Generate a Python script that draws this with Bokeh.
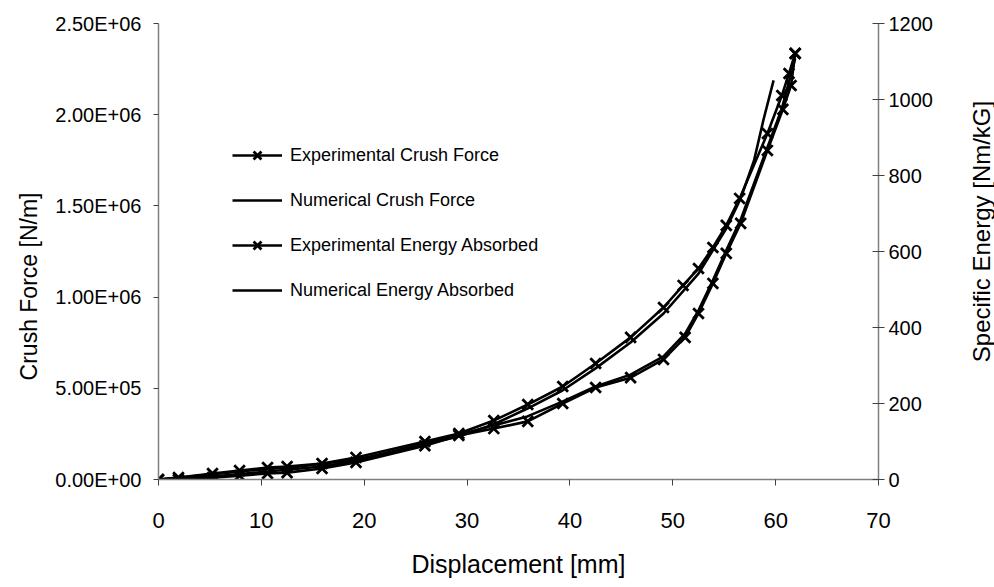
from bokeh.plotting import figure
from bokeh.models import Range1d, LinearAxis, FixedTicker, Legend, LegendItem
from bokeh.layouts import row
from bokeh.core.properties import value
from bokeh.embed import file_html
from bokeh.resources import INLINE
import math

# ---- data ----
exp_force_x = [0, 1.94, 5.25, 7.88, 10.6, 12.5, 15.9, 19.2, 25.9, 29.2, 32.6, 35.9, 39.3,
               42.5, 45.9, 49.1, 51.0, 52.5, 53.9, 55.2, 56.5, 59.2, 60.6, 61.3, 61.9]
exp_force_y = [0, 1.1e4, 3.3e4, 4.9e4, 6.6e4, 7.1e4, 8.8e4, 1.21e5, 2.08e5, 2.52e5, 3.23e5,
               4.11e5, 5.10e5, 6.36e5, 7.79e5, 9.43e5, 1.064e6, 1.157e6, 1.272e6, 1.393e6,
               1.541e6, 1.897e6, 2.105e6, 2.226e6, 2.336e6]

num_force_x = [0, 4.08, 8.94, 13.8, 19.25, 25.85, 29.17, 32.57, 35.87, 39.27, 42.49, 45.89,
               49.1, 52.5, 55.2, 56.6, 57.9, 58.8, 59.8]
num_force_y = [0, 2.2e4, 4.9e4, 7.1e4, 1.10e5, 1.92e5, 2.36e5, 3.02e5, 3.89e5, 4.88e5, 6.09e5,
               7.51e5, 9.10e5, 1.129e6, 1.376e6, 1.541e6, 1.749e6, 1.968e6, 2.188e6]

exp_energy_x = [0, 1.94, 5.25, 7.88, 10.6, 12.5, 15.9, 19.2, 25.9, 29.2, 32.6, 35.9, 39.3,
                42.5, 45.9, 49.1, 51.2, 52.5, 53.9, 55.2, 56.6, 59.2, 60.7, 61.5, 61.9]
exp_energy_y = [0, 0, 5, 10, 16, 18, 29, 45, 89, 116, 134, 153, 200, 242, 268, 316, 374,
                437, 516, 595, 674, 866, 974, 1037, 1121]

num_energy_x = [0, 5.25, 10.6, 15.9, 19.25, 25.86, 29.17, 32.57, 35.87, 39.27, 42.49, 45.89,
                49.1, 51.2, 52.5, 53.9, 55.2, 56.6, 59.2, 60.6, 61.9]
num_energy_y = [0, 8, 21, 34, 50, 95, 118, 142, 166, 205, 245, 276, 324, 384, 445, 524, 603,
                684, 874, 976, 1108]

x_ticks = [0, 10, 20, 30, 40, 50, 60, 70]
force_ticks = [0, 500000, 1000000, 1500000, 2000000, 2500000]
force_tick_labels = ["0.00E+00", "5.00E+05", "1.00E+06", "1.50E+06", "2.00E+06", "2.50E+06"]
energy_ticks = [0, 200, 400, 600, 800, 1000, 1200]

x_title = "Displacement [mm]"
left_title = "Crush Force [N/m]"
right_title = "Specific Energy [Nm/kG]"

FONT = "Liberation Sans"
H = 587
TOP, BOTTOM = 23, 108          # frame borders shared by all three figures
FRAME_H = H - TOP - BOTTOM
LEFT_W, RIGHT_W = 45, 29
MAIN_W = 994 - LEFT_W - RIGHT_W

p = figure(width=MAIN_W, height=H, x_range=Range1d(0, 70), y_range=Range1d(0, 2.5e6),
           output_backend="svg", toolbar_location=None,
           min_border_left=158 - LEFT_W, min_border_right=MAIN_W + LEFT_W - 878,
           min_border_top=TOP, min_border_bottom=BOTTOM,
           x_axis_label=x_title)
p.outline_line_color = None
p.grid.visible = False
p.background_fill_color = "white"
p.border_fill_color = "white"

p.extra_y_ranges = {"energy": Range1d(0, 1200)}
raxis = LinearAxis(y_range_name="energy")
p.add_layout(raxis, "right")

xaxis = p.below[0]
laxis = p.left[0]

for ax in (xaxis, laxis, raxis):
    ax.axis_line_color = "#808080"
    ax.axis_line_width = 1.5
    ax.major_tick_line_color = "#404040"
    ax.minor_tick_line_color = None
    ax.major_label_text_font = FONT
    ax.major_label_text_font_size = "20px"
    ax.major_label_text_color = "black"
    ax.axis_label_text_font = FONT
    ax.axis_label_text_font_size = "25px"
    ax.axis_label_text_font_style = "normal"
    ax.axis_label_text_color = "black"

xaxis.ticker = FixedTicker(ticks=x_ticks)
xaxis.major_tick_in = 0
xaxis.major_tick_out = 6
xaxis.major_label_text_font_size = "22px"
xaxis.major_label_standoff = 27
xaxis.axis_label_standoff = 19

laxis.ticker = FixedTicker(ticks=force_ticks)
laxis.major_label_overrides = {t: s for t, s in zip(force_ticks, force_tick_labels)}
laxis.major_tick_in = 0
laxis.major_tick_out = 5
laxis.major_label_standoff = 12

raxis.ticker = FixedTicker(ticks=energy_ticks)
raxis.major_tick_in = 6
raxis.major_tick_out = 6
raxis.major_label_standoff = 4

LW = 2.6
MS = 15
l1 = p.line(exp_force_x, exp_force_y, line_color="black", line_width=LW)
s1 = p.scatter(exp_force_x, exp_force_y, marker="x", size=MS, line_color="black", line_width=2.8)
l2 = p.line(num_force_x, num_force_y, line_color="black", line_width=LW)
l3 = p.line(exp_energy_x, exp_energy_y, line_color="black", line_width=LW, y_range_name="energy")
s3 = p.scatter(exp_energy_x, exp_energy_y, marker="x", size=MS, line_color="black", line_width=2.8,
               y_range_name="energy")
l4 = p.line(num_energy_x, num_energy_y, line_color="black", line_width=LW, y_range_name="energy")

legend = Legend(items=[
    LegendItem(label="Experimental Crush Force", renderers=[l1, s1]),
    LegendItem(label="Numerical Crush Force", renderers=[l2]),
    LegendItem(label="Experimental Energy Absorbed", renderers=[l3, s3]),
    LegendItem(label="Numerical Energy Absorbed", renderers=[l4]),
], location=(74, 175))
legend.padding = 0
legend.margin = 0
legend.spacing = 17
legend.glyph_width = 50
legend.glyph_height = 28
legend.label_height = 20
legend.label_standoff = 8
legend.border_line_alpha = 0
legend.background_fill_alpha = 0
legend.label_text_font = FONT
legend.label_text_font_size = "18px"
legend.label_text_color = "black"
p.add_layout(legend)


def title_strip(width, text, cx, cy, size):
    """Narrow side figure carrying one vertical axis title (reads bottom-to-top).
    Its frame has the same top/bottom borders as the main chart, so cy is a page row."""
    f = figure(width=width, height=H, x_range=Range1d(0, width), y_range=Range1d(0, FRAME_H),
               output_backend="svg", toolbar_location=None, x_axis_type=None, y_axis_type=None,
               min_border_left=0, min_border_right=0,
               min_border_top=TOP, min_border_bottom=BOTTOM)
    f.outline_line_color = None
    f.grid.visible = False
    f.background_fill_color = "white"
    f.border_fill_color = "white"
    f.text(x=[cx], y=[H - BOTTOM - cy], text=[text], angle=math.pi / 2,
           text_align="center", text_baseline="middle",
           text_font=value(FONT), text_font_size=value(size), text_color="black")
    return f


pl = title_strip(LEFT_W, left_title, 28, 286, "23px")
pr = title_strip(RIGHT_W, right_title, 981 - (LEFT_W + MAIN_W), 231, "24px")

layout = row(pl, p, pr, spacing=0)
open("out.html", "w").write(file_html(layout, INLINE))
